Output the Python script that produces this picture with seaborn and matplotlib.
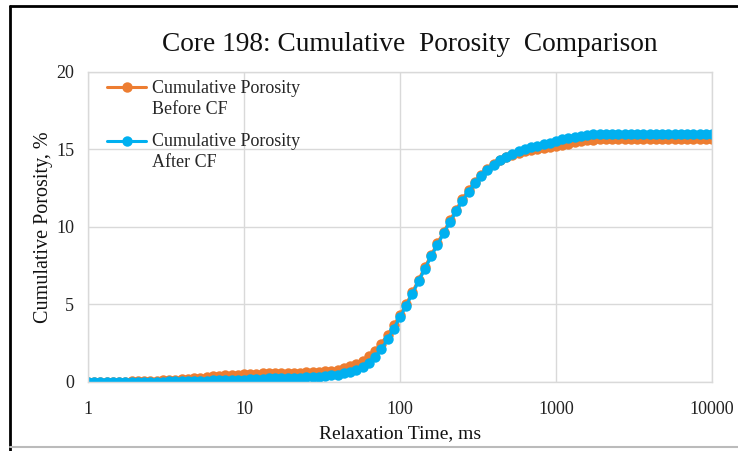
import numpy as np
import pandas as pd
import matplotlib
matplotlib.use("Agg")
import matplotlib.pyplot as plt
from matplotlib.lines import Line2D
from matplotlib.ticker import FixedLocator, FixedFormatter
import seaborn as sns

# Relaxation time bins (ms)
t2_ms = [
    1.000, 1.096, 1.202, 1.318, 1.445, 1.585, 1.738, 1.905, 2.089, 2.291,
    2.512, 2.754, 3.020, 3.311, 3.631, 3.981, 4.365, 4.786, 5.248, 5.754,
    6.310, 6.918, 7.586, 8.318, 9.120,
    10.00, 10.96, 12.02, 13.18, 14.45, 15.85, 17.38, 19.05, 20.89, 22.91,
    25.12, 27.54, 30.20, 33.11, 36.31, 39.81, 43.65, 47.86, 52.48, 57.54,
    63.10, 69.18, 75.86, 83.18, 91.20,
    100.0, 109.6, 120.2, 131.8, 144.5, 158.5, 173.8, 190.5, 208.9, 229.1,
    251.2, 275.4, 302.0, 331.1, 363.1, 398.1, 436.5, 478.6, 524.8, 575.4,
    631.0, 691.8, 758.6, 831.8, 912.0,
    1000, 1096, 1202, 1318, 1445, 1585, 1738, 1905, 2089, 2291,
    2512, 2754, 3020, 3311, 3631, 3981, 4365, 4786, 5248, 5754,
    6310, 6918, 7586, 8318, 9120,
    10000,
]

porosity_before = [
    0.00, 0.00, 0.01, 0.01, 0.02, 0.03, 0.03, 0.04, 0.05, 0.06,
    0.07, 0.09, 0.11, 0.13, 0.16, 0.19, 0.22, 0.25, 0.29, 0.32,
    0.36, 0.39, 0.42, 0.45, 0.48,
    0.50, 0.52, 0.54, 0.56, 0.57, 0.58, 0.59, 0.60, 0.60, 0.61,
    0.62, 0.63, 0.65, 0.68, 0.73, 0.80, 0.90, 1.03, 1.18, 1.38,
    1.65, 2.02, 2.48, 3.03, 3.65,
    4.32, 5.02, 5.80, 6.60, 7.40, 8.20, 8.95, 9.68, 10.42, 11.12,
    11.80, 12.40, 12.93, 13.38, 13.75, 14.05, 14.30, 14.50, 14.65, 14.77,
    14.87, 14.95, 15.02, 15.08, 15.14,
    15.20, 15.28, 15.37, 15.46, 15.54, 15.60, 15.64, 15.67, 15.68, 15.69,
    15.70, 15.70, 15.70, 15.70, 15.70, 15.70, 15.70, 15.70, 15.70, 15.70,
    15.70, 15.70, 15.70, 15.70, 15.70,
    15.70,
]

porosity_after = [
    0.00, 0.00, 0.00, 0.00, 0.01, 0.01, 0.01, 0.01, 0.02, 0.02,
    0.02, 0.03, 0.03, 0.04, 0.04, 0.05, 0.06, 0.07, 0.08, 0.09,
    0.10, 0.11, 0.12, 0.13, 0.14,
    0.15, 0.17, 0.19, 0.21, 0.23, 0.24, 0.25, 0.27, 0.28, 0.29,
    0.31, 0.33, 0.35, 0.38, 0.42, 0.47, 0.55, 0.66, 0.80, 0.98,
    1.24, 1.62, 2.12, 2.75, 3.45,
    4.18, 4.92, 5.70, 6.50, 7.30, 8.10, 8.85, 9.58, 10.30, 11.00,
    11.68, 12.28, 12.82, 13.28, 13.68, 14.02, 14.30, 14.53, 14.72, 14.88,
    15.02, 15.14, 15.25, 15.35, 15.45,
    15.55, 15.65, 15.74, 15.82, 15.89, 15.94, 15.97, 15.99, 16.00, 16.00,
    16.00, 16.00, 16.00, 16.00, 16.00, 16.00, 16.00, 16.00, 16.00, 16.00,
    16.00, 16.00, 16.00, 16.00, 16.00,
    16.00,
]

series_labels = ["Cumulative Porosity\nBefore CF", "Cumulative Porosity\nAfter CF"]
series_colors = ["#ED7D31", "#00B0F0"]
x_ticks = [1, 10, 100, 1000, 10000]
x_tick_labels = ["1", "10", "100", "1000", "10000"]
y_ticks = [0, 5, 10, 15, 20]

df = pd.DataFrame({
    "t2": t2_ms * 2,
    "phi": porosity_before + porosity_after,
    "series": [series_labels[0]] * len(t2_ms) + [series_labels[1]] * len(t2_ms),
})

sns.set_theme(style="white")
plt.rcParams["font.family"] = ["Liberation Serif", "DejaVu Serif"]

fig = plt.figure(figsize=(7.38, 4.51), dpi=100)
ax = fig.add_axes([0.1192, 0.153, 0.8456, 0.6874])

for lab, col in zip(series_labels, series_colors):
    sub = df[df["series"] == lab]
    sns.lineplot(data=sub, x="t2", y="phi", ax=ax, color=col, label=lab,
                 marker="o", markersize=7.5, markeredgewidth=0,
                 linewidth=2.2, sort=False, estimator=None)

ax.set_xscale("log")
ax.set_xlim(1, 10000)
ax.set_ylim(0, 20)
ax.xaxis.set_major_locator(FixedLocator(x_ticks))
ax.xaxis.set_major_formatter(FixedFormatter(x_tick_labels))
ax.xaxis.set_minor_locator(FixedLocator([]))
ax.set_yticks(y_ticks)
ax.grid(True, which="major", color="#D9D9D9", linewidth=1.0)
for s in ax.spines.values():
    s.set_color("#D9D9D9")
    s.set_linewidth(1.0)
ax.tick_params(axis="both", length=0, labelsize=13, colors="#222222")
ax.tick_params(axis="y", pad=10)
ax.tick_params(axis="x", pad=14)

ax.set_xlabel("Relaxation Time, ms", fontsize=14, color="#111111", labelpad=5)
ax.set_ylabel("Cumulative Porosity, %", fontsize=14.5, color="#111111", labelpad=2)
ax.set_title("Core 198: Cumulative  Porosity  Comparison", fontsize=19.7,
             color="#111111", pad=15, x=0.516)

leg = ax.legend(loc="upper left", bbox_to_anchor=(0.030, 0.975), frameon=False,
                fontsize=13, handlelength=2.2, handletextpad=0.3,
                labelspacing=0.83, borderaxespad=0.0, borderpad=0.0)
for t in leg.get_texts():
    t.set_linespacing(1.33)
# align each legend line handle with the first text line of its label
for ln in leg.get_lines():
    ln.set_ydata(np.asarray(ln.get_ydata(), dtype=float) + 8.5)

# figure border (as in the original screenshot)
fig.add_artist(Line2D([10 / 738, 1.0], [1 - 6 / 451, 1 - 6 / 451],
                      transform=fig.transFigure, color="black", linewidth=2))
fig.add_artist(Line2D([10 / 738, 10 / 738], [1 - 6 / 451, 0.0],
                      transform=fig.transFigure, color="black", linewidth=2))
fig.add_artist(Line2D([10 / 738, 1.0], [1 - 447 / 451, 1 - 447 / 451],
                      transform=fig.transFigure, color="#BBBBBB", linewidth=1.5))

fig.savefig("out.png", dpi=100)
